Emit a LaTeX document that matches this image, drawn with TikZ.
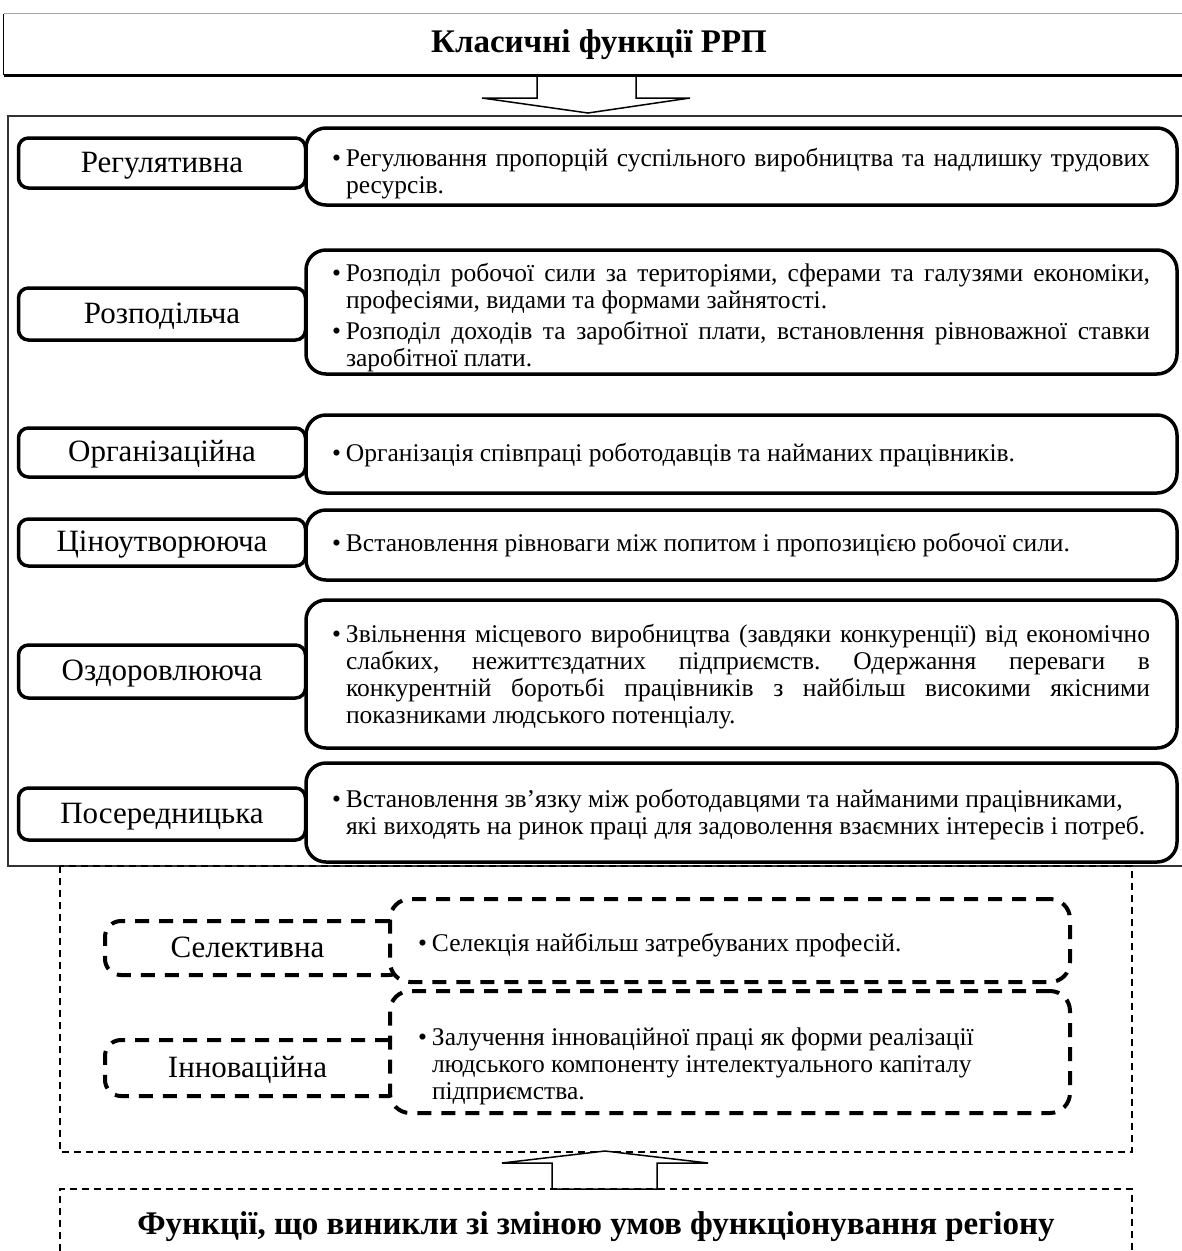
\documentclass[tikz,border=0pt]{standalone}
\usepackage{fontspec}
\setmainfont{Liberation Serif}
\newlength\dw
\newcommand\myFJ[1]{\hbox to\dw{\hbox to14pt{\textbullet\hss}#1}}
\newcommand\myFR[1]{\hbox to\dw{\hbox to14pt{\textbullet\hss}#1\hfil}}
\newcommand\myCJ[1]{\hbox to\dw{\hskip14pt #1}}
\newcommand\myCR[1]{\hbox to\dw{\hskip14pt #1\hfil}}
\tikzset{
  lab/.style={draw, line width=3.5pt, rounded corners=10pt, fill=white, inner sep=0pt,
    font=\fontsize{31}{34}\selectfont, text height=24pt, text depth=6pt, minimum width=287pt},
  dsc/.style={draw, line width=3.5pt, rounded corners=20pt, fill=white, inner sep=0pt,
    minimum width=871pt},
  txt/.style={inner sep=0pt, font=\fontsize{25.5}{27}\selectfont\frenchspacing},
  dlab/.style={draw, line width=4pt, dash pattern=on 14pt off 10pt, rounded corners=16pt,
    fill=white, inner sep=0pt},
  dlabtxt/.style={inner sep=0pt, font=\fontsize{31}{34}\selectfont, text height=24pt, text depth=6pt},
  ddsc/.style={draw, line width=4pt, dash pattern=on 14pt off 10pt, rounded corners=20pt,
    fill=white, inner sep=0pt, minimum width=680pt},
  frameline/.style={line width=1.3pt, draw=black!80},
  thindash/.style={line width=1.5pt, dash pattern=on 7pt off 5pt},
  blockarrow/.style={line width=1.5pt, line join=miter},
  ttl/.style={font=\fontsize{33}{36}\selectfont\bfseries, inner sep=0pt}
}
\begin{document}
\begin{tikzpicture}[x=1pt,y=-1pt]
\useasboundingbox (0,0) rectangle (1182,1251);
\clip (0,0) rectangle (1182,1251);
\fill[white] (0,0) rectangle (1182,1251);

% top title box
\node[ttl, minimum width=1190pt, minimum height=61pt] (top) at (599,44.5) {Класичні функції РРП};
\draw[line width=1.2pt, draw=black!35] (top.north west) -- (top.north east);
\draw[line width=1.2pt] (top.north west) -- (top.south west);

% top block arrow
\coordinate (ta1) at (537,75); \coordinate (ta2) at (537,98); \coordinate (ta3) at (482,98);
\coordinate (tat) at (588,113); \coordinate (ta5) at (690,98); \coordinate (ta6) at (636,98);
\coordinate (ta7) at (636,75);
\draw[blockarrow] (ta1) -- (ta2) -- (ta3) -- (tat) -- (ta5) -- (ta6) -- (ta7);
\draw[line width=3pt] (top.south west) -- (top.south east);

% main frame of classic functions
\draw[frameline] (1190,116) -- (8,116) -- (8,866) -- (1190,866);

% row 1
\node[dsc, minimum height=77pt] (d1) at (741.5,166.5) {};
\node[lab, minimum height=50pt] (l1) at (162,163) {Регулятивна};
\node[txt] (t1) at (741,173.5) {\vbox{\setlength\dw{818pt}%
  \myFJ{Регулювання пропорцій суспільного виробництва та надлишку трудових}%
  \myCR{ресурсів.}}};

% row 2
\node[dsc, minimum height=124pt] (d2) at (741.5,312) {};
\node[lab, minimum height=52pt] (l2) at (162,314) {Розподільча};
\node[txt] (t2) at (741,318) {\vbox{\setlength\dw{818pt}%
  \myFJ{Розподіл робочої сили за територіями, сферами та галузями економіки,}%
  \myCR{професіями, видами та формами зайнятості.}%
  \vskip4pt
  \myFJ{Розподіл доходів та заробітної плати, встановлення рівноважної ставки}%
  \myCR{заробітної плати.}}};

% row 3
\node[dsc, minimum height=78pt] (d3) at (741.5,454) {};
\node[lab, minimum height=49pt] (l3) at (162,452.5) {Організаційна};
\node[txt] (t3) at (741,455) {\vbox{\setlength\dw{818pt}%
  \myFR{Організація співпраці роботодавців та найманих працівників.}}};

% row 4
\node[dsc, minimum height=70pt] (d4) at (741.5,545) {};
\node[lab, minimum height=47pt] (l4) at (162,542.5) {Ціноутворююча};
\node[txt] (t4) at (741,545) {\vbox{\setlength\dw{818pt}%
  \myFR{Встановлення рівноваги між попитом і пропозицією робочої сили.}}};

% row 5
\node[dsc, minimum height=148pt] (d5) at (741.5,674) {};
\node[lab, minimum height=53pt] (l5) at (162,671.5) {Оздоровлююча};
\node[txt] (t5) at (741,676.5) {\vbox{\setlength\dw{818pt}%
  \myFJ{Звільнення місцевого виробництва (завдяки конкуренції) від економічно}%
  \myCJ{слабких, нежиттєздатних підприємств. Одержання переваги в}%
  \myCJ{конкурентній боротьбі працівників з найбільш високими якісними}%
  \myCR{показниками людського потенціалу.}}};

% row 6
\node[dsc, minimum height=99pt] (d6) at (741.5,812.5) {};
\node[lab, minimum height=52pt] (l6) at (162,814) {Посередницька};
\node[txt] (t6) at (741,814.5) {\vbox{\setlength\dw{818pt}%
  \myFR{Встановлення зв’язку між роботодавцями та найманими працівниками,}%
  \myCR{які виходять на ринок праці для задоволення взаємних інтересів і потреб.}}};

% new functions frame
\draw[thindash] (60,866) rectangle (1132,1152);

\node[dlab, minimum width=300pt, minimum height=54pt] (s1) at (255,948) {};
\node[ddsc, minimum height=83pt] (sd1) at (730,940.5) {};
\node[dlabtxt] (s1t) at (247.5,948) {Селективна};
\node[txt] (st1) at (730,945) {\vbox{\setlength\dw{624pt}%
  \myFR{Селекція найбільш затребуваних професій.}}};

\node[dlab, minimum width=300pt, minimum height=56pt] (s2) at (255,1068) {};
\node[ddsc, minimum height=122pt] (sd2) at (730,1052) {};
\node[dlabtxt] (s2t) at (247.5,1068) {Інноваційна};
\node[txt] (st2) at (730,1066) {\vbox{\setlength\dw{624pt}%
  \myFR{Залучення інноваційної праці як форми реалізації}%
  \myCR{людського компоненту інтелектуального капіталу}%
  \myCR{підприємства.}}};

% bottom block arrow
\coordinate (ba1) at (552,1189); \coordinate (ba2) at (552,1163); \coordinate (ba3) at (502,1163);
\coordinate (bat) at (605,1151); \coordinate (ba5) at (708,1163); \coordinate (ba6) at (657,1163);
\coordinate (ba7) at (657,1189);
\draw[blockarrow, fill=white] (ba1) -- (ba2) -- (ba3) -- (bat) -- (ba5) -- (ba6) -- (ba7) -- cycle;

% bottom title box
\draw[thindash] (60,1275) -- (60,1189) -- (1132,1189) -- (1132,1275);
\node[ttl] (bot) at (596,1227) {Функції, що виникли зі зміною умов функціонування регіону};
\end{tikzpicture}
\end{document}
